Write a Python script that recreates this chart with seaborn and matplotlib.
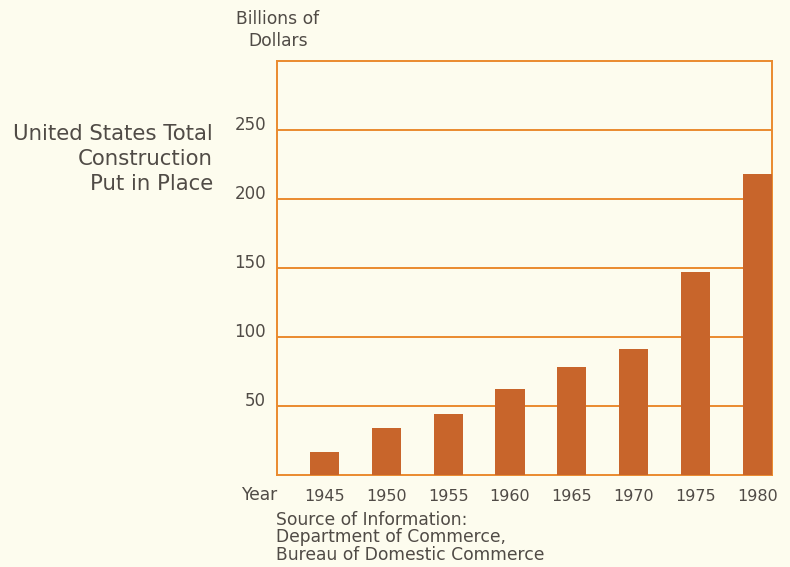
import matplotlib
matplotlib.use("Agg")
import matplotlib.pyplot as plt
import seaborn as sns
import pandas as pd

years = ["1945", "1950", "1955", "1960", "1965", "1970", "1975", "1980"]
values = [17, 34, 44, 62, 78, 91, 147, 218]
y_ticks = [50, 100, 150, 200, 250]

title_lines = "United States Total\nConstruction\nPut in Place"
unit_label = "Billions of\nDollars"
source_text = "Source of Information:\nDepartment of Commerce,\nBureau of Domestic Commerce"

BG = "#fdfcee"
BAR = "#c8652b"
LINE = "#ea8a2e"
TXT = "#504b46"

sns.set_theme(style="white")
plt.rcParams["font.family"] = ["DejaVu Sans"]

df = pd.DataFrame({"year": years, "value": values})

fig = plt.figure(figsize=(7.9, 5.67), dpi=100, facecolor=BG)
ax = fig.add_axes([277 / 790, 1 - 475 / 567, (772 - 277) / 790, (475 - 61) / 567])
ax.set_facecolor(BG)

sns.barplot(data=df, x="year", y="value", order=years, color=BAR, width=0.47,
            saturation=1, ax=ax, zorder=3, linewidth=0)

ax.set_xlim(-0.766, 7.234)
ax.set_ylim(0, 300)
ax.set_yticks(y_ticks)
ax.set_yticklabels([str(v) for v in y_ticks])
ax.yaxis.grid(True, color=LINE, linewidth=1.4, zorder=1)
ax.xaxis.grid(False)
ax.set_axisbelow(True)
for s in ax.spines.values():
    s.set_visible(True)
    s.set_color(LINE)
    s.set_linewidth(1.4)
ax.tick_params(axis="both", length=0, colors=TXT, labelsize=11.5)
ax.tick_params(axis="y", pad=8)
ax.tick_params(axis="x", pad=10)
for lab in ax.get_yticklabels():
    lab.set_verticalalignment("baseline")
    lab.set_fontsize(12)
ax.set_xlabel("")
ax.set_ylabel("")

fig.text(213 / 790, 1 - 124 / 567, title_lines, ha="right", va="top",
         fontsize=15.3, color=TXT, linespacing=1.32)
fig.text(278 / 790, 1 - 10 / 567, unit_label, ha="center", va="top",
         fontsize=12.3, color=TXT, linespacing=1.25, multialignment="center")
fig.text(241 / 790, 1 - 495 / 567, "Year", ha="left", va="center",
         fontsize=12.3, color=TXT)
fig.text(276 / 790, 1 - 511 / 567, source_text, ha="left", va="top",
         fontsize=12.3, color=TXT, linespacing=0.96)

fig.savefig("out.png", dpi=100, facecolor=BG)
